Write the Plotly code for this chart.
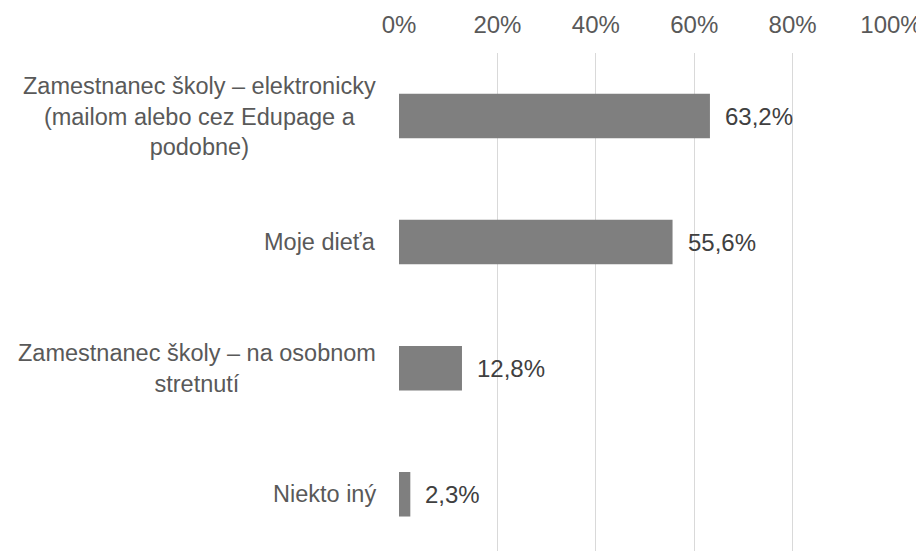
import plotly.graph_objects as go

categories = [
    "Zamestnanec školy – elektronicky<br>(mailom alebo cez Edupage a<br>podobne)",
    "Moje dieťa",
    "Zamestnanec školy – na osobnom<br>stretnutí",
    "Niekto iný",
]
values = [63.2, 55.6, 12.8, 2.3]
value_labels = ["63,2%", "55,6%", "12,8%", "2,3%"]
tick_vals = [0, 20, 40, 60, 80, 100]
tick_text = ["0%", "20%", "40%", "60%", "80%", "100%"]

FONT = "Arial, Liberation Sans, sans-serif"

# page body has an 8px margin, so the figure is sized to fit the window
W, H = 916, 543
ml, mr, mt, mb = 391, 33, 45, 0

fig = go.Figure()
fig.add_trace(go.Bar(
    x=values,
    y=list(range(len(categories))),
    orientation="h",
    marker=dict(color="#7f7f7f", line=dict(width=0)),
    width=0.353,
    hoverinfo="skip",
))

annotations = []
for i, (v, lab) in enumerate(zip(values, value_labels)):
    annotations.append(dict(
        x=v, y=i, xref="x", yref="y", text=lab, showarrow=False,
        xanchor="left", yanchor="middle", xshift=13,
        font=dict(family=FONT, size=24, color="#404040"),
    ))

# category labels: right-aligned blocks, centred lines
label_right_px = 378 - 8
for i, cat in enumerate(categories):
    annotations.append(dict(
        x=(label_right_px - ml) / (W - ml - mr), y=i, xref="paper", yref="y",
        text=cat, showarrow=False, xanchor="right", yanchor="middle",
        align="center",
        font=dict(family=FONT, size=23.5, color="#595959"),
    ))

fig.update_layout(
    width=W, height=H,
    margin=dict(l=ml, r=mr, t=mt, b=mb, pad=0),
    paper_bgcolor="white", plot_bgcolor="white",
    showlegend=False,
    annotations=annotations,
    xaxis=dict(
        side="top", range=[0, 100], tickvals=tick_vals, ticktext=tick_text,
        showgrid=True, gridcolor="#d9d9d9", gridwidth=1.3,
        zeroline=False, showline=False, ticks="",
        ticklabelstandoff=14,
        tickfont=dict(family=FONT, size=24, color="#595959"),
        fixedrange=True, automargin=False,
    ),
    yaxis=dict(
        range=[3.45, -0.5], showticklabels=False, showgrid=False,
        zeroline=False, showline=False, ticks="", fixedrange=True,
    ),
)

fig.write_html("out.html")
